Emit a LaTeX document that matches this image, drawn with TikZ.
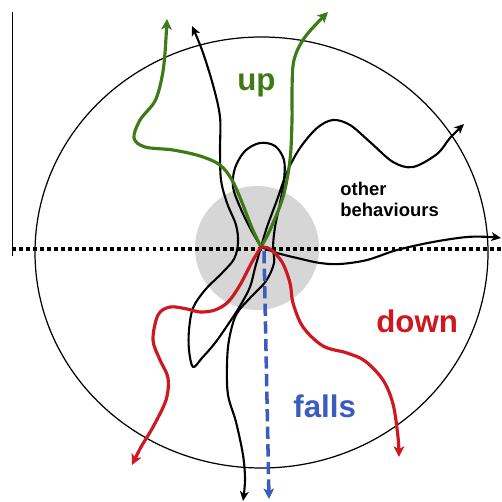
\documentclass[tikz,border=0pt]{standalone}
\usepackage{fontspec}
\setmainfont{Liberation Sans}
\usetikzlibrary{arrows.meta}
\definecolor{upgreen}{RGB}{62,122,22}
\definecolor{downred}{RGB}{204,24,30}
\definecolor{fallblue}{RGB}{58,92,190}
\definecolor{zonegray}{RGB}{214,214,214}
\tikzset{
  traj/.style={line cap=round, line join=round},
  blk/.style={traj, line width=1.2pt, black, -{Stealth[length=5.5pt,width=5pt,inset=1.5pt]}},
  grn/.style={traj, line width=1.8pt, draw=upgreen, -{Stealth[length=6pt,width=6pt,inset=1.5pt]}},
  red/.style={traj, line width=1.8pt, draw=downred, -{Stealth[length=6pt,width=6pt,inset=1.5pt]}},
  fall/.style={line width=2pt, draw=fallblue, dash pattern=on 7pt off 3pt, -{Stealth[length=6pt,width=6pt,inset=1.5pt]}},
  biglabel/.style={font=\fontsize{17.8}{20}\selectfont\bfseries, inner sep=0pt, anchor=base west},
  smalllabel/.style={font=\fontsize{10.5}{12}\selectfont\bfseries, inner sep=0pt, anchor=base west},
  smoothpath/.style={smooth, tension=0.55}
}
\begin{document}
\begin{tikzpicture}[x=0.02cm, y=-0.02cm]
\useasboundingbox (0,0) rectangle (501,502);
% zone and outer ellipse
\fill[zonegray] (257,248) circle (62);
\draw[line width=0.7pt] (261.5,252.5) ellipse [x radius=226.5, y radius=215.5];
% axes
\coordinate (vtop) at (12,12);
\coordinate (vbot) at (12,256);
\draw[line width=0.5pt] (vtop) -- (vbot);
\coordinate (hl) at (12,249);
\coordinate (hr) at (501,249);
\draw[line width=2pt, dash pattern=on 2.2pt off 1.8pt] (hl) -- (hr);
% centre and end points
\coordinate (c) at (261,247);
\coordinate (b1) at (192,26);
\coordinate (b2) at (243,501);
\coordinate (b3) at (464,124);
\coordinate (b4) at (501,238);
\coordinate (g1) at (167,19);
\coordinate (g2) at (328,12);
\coordinate (r1) at (132,465);
\coordinate (r2) at (399,457);
\coordinate (fb) at (264,251);
\coordinate (fe) at (269,499);
% black trajectories
\draw[blk] plot[smoothpath] coordinates {(c) (255,268) (250,287) (240,306) (229,323) (215,343) (202,358) (193,367) (189,350) (189,330) (193,308) (205,290) (222,273) (234,259) (238,243) (236,225) (227,203) (221,180) (220,150) (220,117) (213,85) (202,50) (b1)};
\draw[blk] plot[smoothpath] coordinates {(c) (250,228) (240,207) (233,187) (235,168) (245,151) (260,143) (275,146) (284,160) (284,180) (280,203) (275,227) (273,247) (274,263) (266,281) (250,298) (236,315) (229,340) (227,365) (228,395) (236,422) (243,455) (245,480) (b2)};
\draw[blk] plot[smoothpath] coordinates {(c) (267,227) (277,200) (287,172) (300,148) (317,128) (333,120) (350,125) (370,142) (393,162) (413,167) (437,154) (450,138) (b3)};
\draw[blk] plot[smoothpath] coordinates {(c) (277,253) (297,258) (320,263) (340,264) (367,260) (397,250) (433,242) (467,237) (490,237) (b4)};
% up
\draw[grn] plot[smoothpath] coordinates {(c) (252,228) (241,200) (232,180) (220,165) (200,156) (173,150) (145,147) (134,138) (140,120) (155,101) (162,77) (165,53) (g1)};
\draw[grn] plot[smoothpath] coordinates {(c) (270,230) (283,197) (290,160) (292,120) (292,90) (294,60) (305,37) (g2)};
% down
\draw[red] plot[smoothpath] coordinates {(c) (252,262) (240,285) (228,302) (215,310) (200,312) (187,309) (170,307) (158,315) (153,340) (160,360) (168,378) (166,400) (153,427) (141,447) (r1)};
\draw[red] plot[smoothpath] coordinates {(c) (270,249) (282,262) (290,283) (293,303) (303,327) (323,346) (347,353) (365,361) (383,380) (393,404) (398,437) (r2)};
% falls
\draw[fall] (fb) -- (fe);
% labels
\node[biglabel, text=upgreen] (up) at (237,91) {up};
\node[biglabel, text=downred] (down) at (376,332) {down};
\node[biglabel, text=fallblue] (falls) at (293,417) {falls};
\node[smalllabel] (other) at (340,196) {other};
\node[smalllabel] (behav) at (340,217) {behaviours};
\end{tikzpicture}
\end{document}
